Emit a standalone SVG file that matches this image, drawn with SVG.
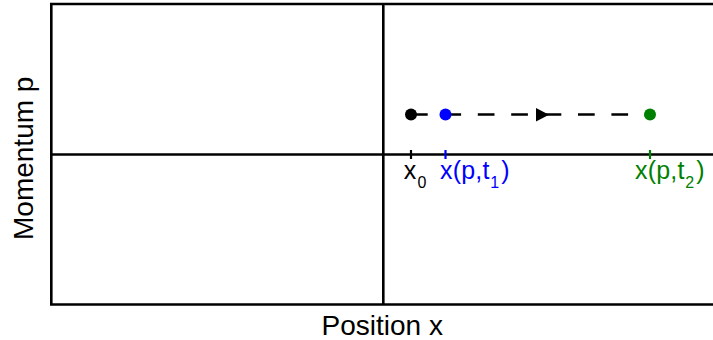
<svg xmlns="http://www.w3.org/2000/svg" width="713" height="340" viewBox="0 0 713 340">
<style>
.ax{stroke:#000;stroke-width:2.6;fill:none}
.lbl{font-family:"Liberation Sans",Arial,sans-serif;font-size:25px;letter-spacing:0.2px}
.axl{font-family:"Liberation Sans",Arial,sans-serif;font-size:28px}
.sub{font-size:16px}
.tick{stroke-width:2.2}
</style>
<rect width="713" height="340" fill="#fff"/>
<g id="axes">
<path class="ax" d="M720,4 H51.3 V304.5 H720"/>
<path class="ax" d="M383.3,4 V304.5"/>
<path class="ax" d="M51.3,154.5 H720"/>
<text class="axl" x="321.5" y="335">Position x</text>
<text class="axl" transform="translate(33.3,158.3) rotate(-90)" text-anchor="middle">Momentum p</text>
</g>
<g id="connectors">
<line x1="411" y1="114.5" x2="650" y2="114.5" stroke="#000" stroke-width="2.7" stroke-dasharray="16.7 16.7"/>
<polygon points="536,108 536,121.5 549,114.75" fill="#000"/>
</g>
<g id="x0">
<line class="tick" x1="411" y1="150" x2="411" y2="159" stroke="#000"/>
<circle cx="411" cy="114.5" r="6" fill="#000"/>
<text class="lbl" x="403.8" y="179" fill="#000">x<tspan class="sub" dx="1" dy="9">0</tspan></text>
</g>
<g id="xt1">
<line class="tick" x1="445.5" y1="150" x2="445.5" y2="159" stroke="#0000ff"/>
<circle cx="445.5" cy="114.5" r="6" fill="#0000ff"/>
<text class="lbl" x="440" y="179" fill="#0000ff">x(p,t<tspan class="sub" dx="0.5" dy="9">1</tspan><tspan dx="2" dy="-9">)</tspan></text>
</g>
<g id="xt2">
<line class="tick" x1="650" y1="150" x2="650" y2="159" stroke="#008000"/>
<circle cx="650" cy="114.5" r="6" fill="#008000"/>
<text class="lbl" x="635" y="179" fill="#008000">x(p,t<tspan class="sub" dx="0.5" dy="9">2</tspan><tspan dx="2" dy="-9">)</tspan></text>
</g>
</svg>
